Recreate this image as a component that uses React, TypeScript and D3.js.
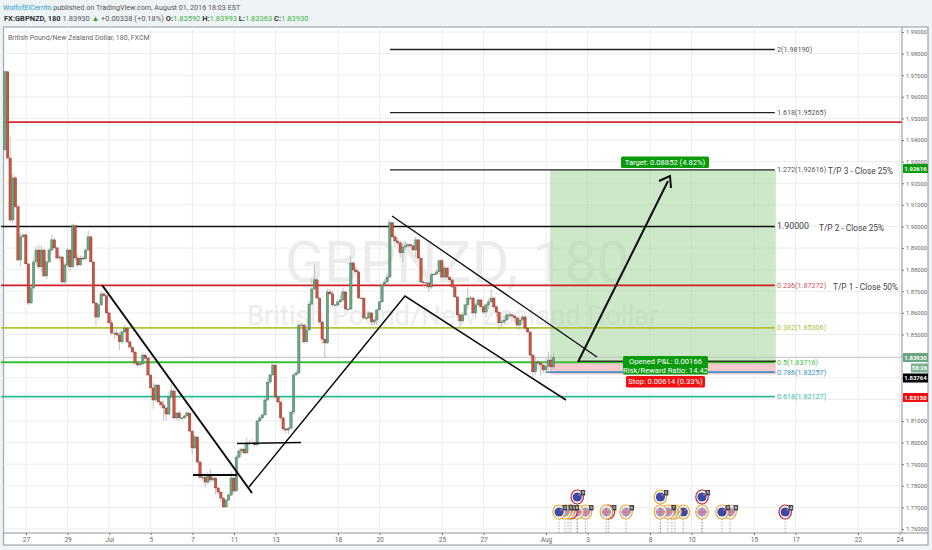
import React, { useEffect, useRef } from 'react';
import * as d3 from 'd3';

// 3h candles, open of each bar = previous close
const firstOpen = 1.9355;
const closes = [
  1.9716, 1.9317, 1.9030, 1.9225, 1.9091, 1.8845, 1.8952, 1.8961, 1.8827, 1.8646, 1.8716, 1.8836, 1.8891, 1.8813, 1.8891, 1.8771, 1.8836, 1.8891, 1.8938, 1.8901,
  1.8854, 1.8859, 1.8743, 1.8822, 1.8891, 1.8813, 1.9003, 1.8854, 1.8822, 1.8854, 1.8850, 1.8891, 1.8952, 1.8836, 1.8646, 1.8581, 1.8637, 1.8688, 1.8679, 1.8600,
  1.8554, 1.8507, 1.8507, 1.8498, 1.8466, 1.8512, 1.8530, 1.8466, 1.8442, 1.8419, 1.8368, 1.8359, 1.8364, 1.8405, 1.8391, 1.8313, 1.8253, 1.8197, 1.8266, 1.8188,
  1.8174, 1.8160, 1.8132, 1.8211, 1.8239, 1.8114, 1.8137, 1.8114, 1.8114, 1.8123, 1.8137, 1.8053, 1.7975, 1.8026, 1.7910, 1.7840, 1.7840, 1.7817, 1.7850, 1.7827,
  1.7836, 1.7790, 1.7771, 1.7743, 1.7702, 1.7734, 1.7757, 1.7836, 1.7776, 1.7933, 1.7961, 1.7970, 1.7952, 1.7998, 1.7998, 1.7998, 1.7989, 1.8100, 1.8114, 1.8128,
  1.8197, 1.8280, 1.8313, 1.8359, 1.8211, 1.8188, 1.8114, 1.8063, 1.8058, 1.8067, 1.8141, 1.8313, 1.8322, 1.8544, 1.8544, 1.8466, 1.8521, 1.8641, 1.8711, 1.8753,
  1.8669, 1.8558, 1.8479, 1.8461, 1.8697, 1.8688, 1.8637, 1.8637, 1.8651, 1.8660, 1.8697, 1.8618, 1.8618, 1.8831, 1.8799, 1.8790, 1.8669, 1.8669, 1.8577, 1.8577,
  1.8600, 1.8558, 1.8567, 1.8614, 1.8651, 1.8729, 1.8743, 1.8766, 1.9017, 1.8952, 1.8933, 1.8924, 1.8878, 1.8905, 1.8910, 1.8915, 1.8910, 1.8891, 1.8938, 1.8854,
  1.8743, 1.8739, 1.8739, 1.8720, 1.8776, 1.8780, 1.8790, 1.8841, 1.8766, 1.8808, 1.8766, 1.8753, 1.8720, 1.8674, 1.8591, 1.8563, 1.8591, 1.8637, 1.8669, 1.8669,
  1.8600, 1.8637, 1.8660, 1.8628, 1.8604, 1.8637, 1.8651, 1.8669, 1.8628, 1.8604, 1.8554, 1.8558, 1.8567, 1.8591, 1.8591, 1.8586, 1.8577, 1.8544, 1.8567, 1.8581,
  1.8530, 1.8512, 1.8405, 1.8327, 1.8373, 1.8368, 1.8359, 1.8336, 1.8354, 1.8382, 1.8350, 1.8393,
];
// wick lengths in pips above / below the body
const wickUp = [
  5, 0, 100, 20, 10, 10, 15, 5, 5, 0, 10, 15, 15, 25, 20, 5, 5, 10, 25, 10,
  5, 10, 5, 10, 10, 5, 10, 5, 15, 10, 10, 5, 30, 5, 0, 5, 5, 10, 5, 5,
  10, 15, 15, 20, 15, 10, 15, 5, 5, 0, 5, 5, 15, 10, 5, 5, 0, 25, 5, 5,
  5, 20, 5, 25, 30, 0, 5, 10, 5, 5, 5, 0, 5, 10, 0, 5, 15, 10, 15, 25,
  10, 5, 5, 0, 5, 5, 10, 30, 5, 10, 15, 5, 25, 25, 15, 20, 10, 5, 10, 5,
  15, 15, 5, 5, 0, 5, 0, 5, 5, 5, 10, 10, 15, 5, 10, 0, 20, 15, 45, 70,
  10, 0, 5, 0, 15, 15, 15, 5, 10, 25, 20, 5, 5, 30, 10, 15, 5, 5, 0, 5,
  10, 0, 10, 5, 5, 10, 15, 15, 15, 5, 10, 15, 10, 20, 20, 10, 5, 10, 15, 5,
  0, 5, 5, 5, 10, 5, 10, 5, 10, 15, 0, 0, 0, 5, 5, 5, 10, 5, 50, 10,
  5, 10, 10, 5, 5, 10, 15, 40, 5, 5, 5, 10, 15, 10, 10, 5, 5, 5, 10, 10,
  5, 5, 0, 5, 25, 10, 10, 5, 35, 40, 25, 25,
];
const wickDown = [
  10, 5, 10, 15, 5, 5, 30, 10, 5, 10, 5, 10, 15, 10, 25, 5, 15, 5, 10, 5,
  5, 15, 15, 15, 10, 20, 5, 15, 10, 5, 10, 5, 5, 0, 5, 40, 10, 5, 5, 5,
  5, 10, 30, 10, 40, 10, 5, 5, 5, 5, 10, 10, 5, 5, 5, 5, 5, 40, 10, 5,
  15, 60, 30, 5, 5, 5, 10, 15, 10, 5, 5, 5, 30, 5, 5, 10, 15, 25, 10, 10,
  10, 30, 10, 20, 5, 5, 5, 5, 10, 5, 10, 15, 5, 5, 10, 5, 5, 5, 5, 5,
  5, 5, 10, 5, 5, 10, 10, 10, 15, 20, 5, 10, 5, 5, 5, 10, 5, 5, 5, 5,
  5, 10, 25, 70, 5, 5, 10, 5, 5, 5, 10, 5, 5, 5, 5, 5, 5, 10, 10, 10,
  5, 15, 15, 25, 5, 5, 5, 5, 5, 5, 30, 10, 25, 40, 10, 10, 10, 5, 35, 5,
  5, 15, 25, 20, 10, 5, 5, 10, 5, 5, 10, 5, 5, 5, 10, 35, 10, 5, 20, 10,
  5, 25, 5, 10, 10, 25, 20, 5, 10, 25, 35, 20, 10, 5, 15, 25, 20, 20, 25, 10,
  10, 5, 5, 25, 15, 30, 50, 15, 15, 30, 25, 10,
];

const yTicks = d3.range(0, 24).map(i => +(1.76 + i * 0.01).toFixed(2));
// these sit under the coloured price tags, no label shows
const coveredTicks = [1.82, 1.83, 1.84];
const tickDays = [0, 2, 4, 6, 8, 10, 12, 15, 17, 20, 22, 25, 27, 30, 32, 35, 37, 40, 42];
const tickLabels = ['27', '29', 'Jul', '5', '7', '11', '13', '18', '20', '25', '27', 'Aug', '3', '8', '10', '15', '17', '22', '24'];

// horizontal levels: price, first day, last day, colour, width
const fibPrices = [1.9819, 1.95265, 1.92616, 1.9, 1.87272, 1.85306, 1.83716, 1.83257, 1.82127];
const fibLabels = ['2(1.98190)', '1.618(1.95265)', '1.272(1.92616)', '1.90000', '0.236(1.87272)', '0.382(1.85306)', '0.5(1.83716)', '0.786(1.83257)', '0.618(1.82127)'];
const fibColors = ['#222222', '#222222', '#222222', '#111111', '#d21f26', '#b5c233', '#32c032', '#3f8fc8', '#25bb98'];
const fibLabelColors = ['#555555', '#555555', '#555555', '#444444', '#d0565c', '#a9c440', '#45c545', '#3a90c8', '#2fc4a2'];
const fibStartDays = [17.5, 17.5, 17.5, -1.2, -1.2, -1.2, -1.2, 25, -1.2];
const fibEndDay = 36;
const redLevel = 1.9483;

const entry = 1.83764;
const target = 1.92616;
const stop = 1.8315;
const lastPrice = 1.8393;
const positionStartDay = 25.2;
const positionEndDay = 36.05;

const eventDays = [25.63, 25.91, 26.06, 26.2, 26.5, 26.9, 27.9, 28, 28.85, 30.5, 30.86, 31.05, 31.2, 31.6, 32.5, 33.46, 33.85, 36.5, 26.5, 30.5, 32.5];
const eventRows = [0, 0, 0, 0, 0, 0, 0, 0, 0, 0, 0, 0, 0, 0, 0, 0, 0, 0, 1, 1, 1];
const eventFlags = ['nz', 'uk', 'uk', 'uk', 'uk', 'uk', 'uk', 'nz', 'uk', 'uk', 'uk', 'uk', 'uk', 'nz', 'uk', 'nz', 'uk', 'nz', 'nz', 'nz', 'nz'];
const eventRings = ['o', 'o', 'o', 'r', 'o', 'o', 'o', 'r', 'o', 'o', 'o', 'o', 'o', 'o', 'o', 'o', 'o', 'r', 'r', 'o', 'r'];
const eventCounts = ['3', '3', '3', '8', '', '3', '', '3', '6', '', '7', '', '', '', '', '9', '8', '4', '9', '5', '9'];

const App: React.FC = () => {
  const svgRef = useRef<SVGSVGElement>(null);

  useEffect(() => {
    if (!svgRef.current) return;
    const svg = d3.select(svgRef.current);
    svg.selectAll('*').remove();

    const font = 'Roboto, "Open Sans", sans-serif';
    const paneLeft = 3.5, paneRight = 902, paneTop = 27, paneBottom = 533, outerRight = 928, outerBottom = 545;

    const x = d3.scaleLinear().domain([0, 42]).range([26, 899.6]);
    const y = d3.scaleLinear().domain([1.76, 1.99]).range([529, 32]);
    const barX = (i: number) => x(-1.01 + i / 8);

    // page + frame
    svg.append('rect').attr('width', 932).attr('height', 550).attr('fill', '#eef3f5');
    svg.append('rect').attr('x', paneLeft).attr('y', paneTop).attr('width', outerRight - paneLeft).attr('height', outerBottom - paneTop)
      .attr('fill', '#fff').attr('stroke', '#a3a6a8').attr('stroke-width', 1.2);

    // grid
    const grid = svg.append('g').attr('stroke', '#ececec').attr('stroke-width', 1);
    yTicks.forEach(t => grid.append('line').attr('x1', paneLeft).attr('x2', paneRight).attr('y1', y(t)).attr('y2', y(t)));
    tickDays.forEach(d => grid.append('line').attr('x1', x(d)).attr('x2', x(d)).attr('y1', paneTop).attr('y2', paneBottom));

    // watermark
    svg.append('text').attr('x', 285).attr('y', 282).attr('font-family', font).attr('font-size', 57.5).attr('fill', '#ececec').text('GBPNZD, 180');
    svg.append('text').attr('x', 247).attr('y', 325).attr('font-family', font).attr('font-size', 27.4).attr('fill', '#ececec').text('British Pound/New Zealand Dollar');

    // position boxes
    const boxX = x(positionStartDay), boxW = x(positionEndDay) - boxX;
    svg.append('rect').attr('x', boxX).attr('y', y(target)).attr('width', boxW).attr('height', y(entry) - y(target)).attr('fill', '#acd9a5').attr('fill-opacity', 0.6);
    svg.append('rect').attr('x', boxX).attr('y', y(entry)).attr('width', boxW).attr('height', y(stop) - y(entry)).attr('fill', '#f8c9cc');

    // last price line
    svg.append('line').attr('x1', paneLeft).attr('x2', paneRight).attr('y1', y(lastPrice)).attr('y2', y(lastPrice)).attr('stroke', '#c4c7c5').attr('stroke-width', 1);

    // levels
    svg.append('line').attr('x1', paneLeft).attr('x2', paneRight).attr('y1', y(redLevel)).attr('y2', y(redLevel)).attr('stroke', '#cf2a30').attr('stroke-width', 1.8);
    fibPrices.forEach((p, i) => {
      svg.append('line').attr('x1', x(fibStartDays[i])).attr('x2', x(fibEndDay)).attr('y1', y(p)).attr('y2', y(p))
        .attr('stroke', fibColors[i]).attr('stroke-width', i < 4 ? 1.3 : 1.8);
      svg.append('text').attr('x', 777).attr('y', y(p) + 2.5).attr('font-family', font)
        .attr('font-size', i === 3 ? 8.8 : 7.2).attr('fill', fibLabelColors[i]).text(fibLabels[i]);
    });
    svg.append('line').attr('x1', 578).attr('x2', x(positionEndDay)).attr('y1', y(entry)).attr('y2', y(entry)).attr('stroke', '#2a3a1c').attr('stroke-width', 1.4);

    // candles
    const candles = svg.append('g');
    closes.forEach((c, i) => {
      const o = i === 0 ? firstOpen : closes[i - 1];
      const up = c >= o;
      const cx = barX(i);
      candles.append('line').attr('x1', cx).attr('x2', cx)
        .attr('y1', y(Math.max(o, c) + wickUp[i] / 10000)).attr('y2', y(Math.min(o, c) - wickDown[i] / 10000))
        .attr('stroke', '#a8a8a8').attr('stroke-width', 0.7);
      const top = y(Math.max(o, c));
      candles.append('rect').attr('x', cx - 1.25).attr('y', top).attr('width', 2.5)
        .attr('height', Math.max(0.8, y(Math.min(o, c)) - top))
        .attr('fill', up ? '#6ba583' : '#cc5440')
        .attr('stroke', up ? '#2f5f45' : '#6b231a').attr('stroke-width', 0.3);
    });

    // hand-drawn trend lines
    const lineGen = d3.line();
    const trend = (pts: [number, number][], w: number) =>
      svg.append('path').attr('d', lineGen(pts)).attr('fill', 'none').attr('stroke', '#0b0b0b').attr('stroke-width', w);
    trend([[102, 285], [252, 493]], 2);
    trend([[193, 475], [237, 475]], 2);
    trend([[237, 443.5], [301, 442.5]], 1.6);
    trend([[249, 487], [405, 296], [566, 400]], 1.5);
    trend([[392, 216], [597, 357]], 1.3);
    trend([[578, 362], [668, 181]], 2);
    trend([[659, 181], [670, 176], [671, 188]], 2);

    // position badges
    const badge = (bx: number, by: number, w: number, h: number, fill: string, lines: string[]) => {
      svg.append('rect').attr('x', bx).attr('y', by).attr('width', w).attr('height', h).attr('rx', 1.5).attr('fill', fill);
      lines.forEach((t, i) => svg.append('text').attr('x', bx + w / 2).attr('y', by + 8 + i * 8.6).attr('text-anchor', 'middle')
        .attr('font-family', font).attr('font-size', 7.6).attr('fill', '#fff').text(t));
    };
    badge(621, 156.5, 88, 11.5, '#0a9a0e', ['Target: 0.08852 (4.82%)']);
    badge(623, 356, 85, 18.5, '#0a9a0e', ['Opened P&L: 0.00166', 'Risk/Reward Ratio: 14.42']);
    badge(626, 376, 79, 11.5, '#f00f12', ['Stop: 0.00614 (0.33%)']);

    // right-hand notes
    const notes = svg.append('g').attr('font-family', font).attr('font-size', 8.3).attr('fill', '#444');
    notes.append('text').attr('x', 828).attr('y', 174).text('T/P 3 - Close 25%');
    notes.append('text').attr('x', 819).attr('y', 231).text('T/P 2 - Close 25%');
    notes.append('text').attr('x', 833).attr('y', 290).text('T/P 1 - Close 50%');

    // event bubbles, first one ends up on top
    const events = svg.append('g');
    d3.range(eventDays.length).reverse().forEach(i => {
      const ex = x(eventDays[i]);
      const ey = eventRows[i] === 0 ? 512 : 497;
      events.append('line').attr('x1', ex).attr('x2', ex).attr('y1', ey + 7).attr('y2', 533)
        .attr('stroke', '#8f8f8f').attr('stroke-width', 0.7).attr('stroke-dasharray', '1.5,1.5');
      events.append('ellipse').attr('cx', ex).attr('cy', ey).attr('rx', 6.2).attr('ry', 7)
        .attr('fill', '#fff').attr('stroke', eventRings[i] === 'o' ? '#e3a83a' : '#c12334').attr('stroke-width', 1.2);
      if (eventFlags[i] === 'nz') {
        events.append('circle').attr('cx', ex).attr('cy', ey).attr('r', 4.6).attr('fill', '#3c4aa6');
        events.append('circle').attr('cx', ex + 2).attr('cy', ey - 2).attr('r', 0.9).attr('fill', '#d06a88');
      } else {
        events.append('circle').attr('cx', ex).attr('cy', ey).attr('r', 4.6).attr('fill', '#a3a6d2');
        events.append('line').attr('x1', ex - 4.6).attr('x2', ex + 4.6).attr('y1', ey).attr('y2', ey).attr('stroke', '#df7088').attr('stroke-width', 1.5);
        events.append('line').attr('x1', ex).attr('x2', ex).attr('y1', ey - 4.6).attr('y2', ey + 4.6).attr('stroke', '#df7088').attr('stroke-width', 1.5);
      }
      if (eventCounts[i]) {
        events.append('rect').attr('x', ex + 3.5).attr('y', ey - 7).attr('width', 4.5).attr('height', 5.5).attr('fill', '#444');
        events.append('text').attr('x', ex + 5.7).attr('y', ey - 2.7).attr('text-anchor', 'middle').attr('font-family', font)
          .attr('font-size', 4.4).attr('fill', '#fff').text(eventCounts[i]);
      }
    });

    // axes
    const yAxis = svg.append('g').attr('transform', `translate(${paneRight},0)`)
      .call(d3.axisRight(y).tickValues(yTicks).tickSize(2).tickPadding(2)
        .tickFormat(d => (coveredTicks.includes(+d) ? '' : (+d).toFixed(5))));
    yAxis.select('.domain').remove();
    yAxis.selectAll('text').attr('font-family', font).attr('font-size', 5.8).attr('fill', '#666');
    yAxis.selectAll('line').attr('stroke', '#777');

    const xAxis = svg.append('g').attr('transform', `translate(0,${paneBottom})`)
      .call(d3.axisBottom(x).tickValues(tickDays).tickSize(2).tickPadding(2).tickFormat((_, i) => tickLabels[i]));
    xAxis.select('.domain').remove();
    xAxis.selectAll('text').attr('font-family', font).attr('font-size', 6.6).attr('fill', '#666');
    xAxis.selectAll('line').attr('stroke', '#777');

    svg.append('line').attr('x1', paneRight).attr('x2', paneRight).attr('y1', paneTop).attr('y2', paneBottom).attr('stroke', '#8f9294');
    svg.append('line').attr('x1', paneLeft).attr('x2', outerRight).attr('y1', paneBottom).attr('y2', paneBottom).attr('stroke', '#8f9294');

    // price labels on the axis
    const priceTag = (lx: number, cy: number, fill: string, t: string) => {
      svg.append('rect').attr('x', lx).attr('y', cy - 4.5).attr('width', outerRight - lx).attr('height', 9).attr('fill', fill);
      svg.append('text').attr('x', (lx + outerRight) / 2).attr('y', cy + 2).attr('text-anchor', 'middle').attr('font-family', font)
        .attr('font-size', 6).attr('font-weight', 700).attr('fill', '#fff').text(t);
    };
    priceTag(903, 168.5, '#0a9a0e', '1.92616');
    priceTag(903, 357.5, '#6ba583', '1.83930');
    priceTag(911, 368, '#7bb090', '58:26');
    priceTag(903, 378, '#000000', '1.83764');
    priceTag(903, 397.5, '#f00f12', '1.83150');

    // header
    const head = svg.append('text').attr('x', 3).attr('y', 9.5).attr('font-family', font).attr('font-size', 7.2).attr('fill', '#555');
    head.append('tspan').attr('fill', '#2a9bd0').text('WolfofElCerrito');
    head.append('tspan').text(' published on TradingView.com, August 01, 2016 18:03 EST');
    const sub = svg.append('text').attr('x', 4).attr('y', 21).attr('font-family', font).attr('font-size', 7.5).attr('fill', '#555');
    sub.append('tspan').attr('font-weight', 700).attr('fill', '#333').text('FX:GBPNZD, 180 ');
    sub.append('tspan').text(' 1.83930 ');
    sub.append('tspan').attr('fill', '#2ca02c').text('▲');
    sub.append('tspan').text(' +0.00338 (+0.18%) ');
    [['O:', '1.83592'], ['H:', '1.83993'], ['L:', '1.83363'], ['C:', '1.83930']].forEach(([k, v]) => {
      sub.append('tspan').attr('font-weight', 700).attr('fill', '#333').text(k);
      sub.append('tspan').attr('fill', '#3fb24a').text(`${v} `);
    });
    svg.append('text').attr('x', 8).attr('y', 39.5).attr('font-family', font).attr('font-size', 7).attr('fill', '#666')
      .text('British Pound/New Zealand Dollar, 180, FXCM');
  }, []);

  return <svg ref={svgRef} width={932} height={550} viewBox="0 0 932 550" style={{ position: 'absolute', left: 0, top: 0 }} />;
};

export default App;
